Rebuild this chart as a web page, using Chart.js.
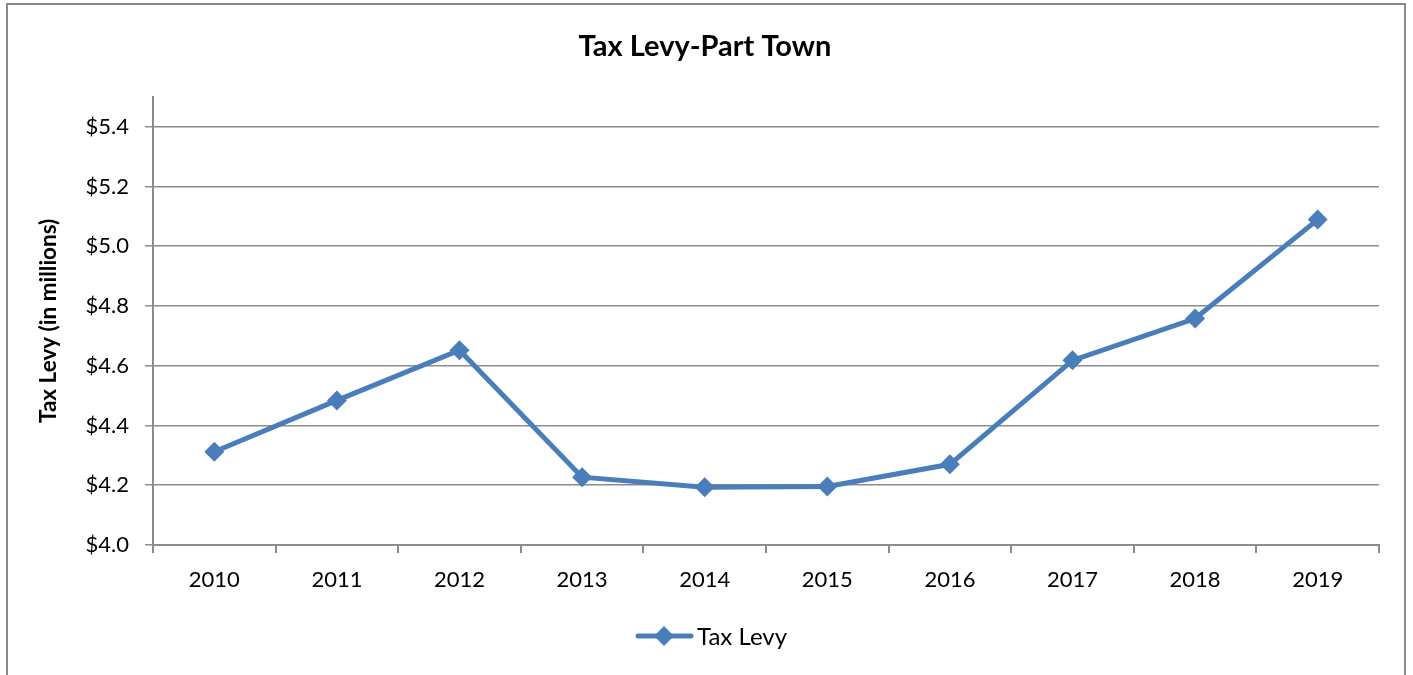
<!DOCTYPE html>
<html>
<head>
<meta charset="utf-8">
<script src="https://cdn.jsdelivr.net/npm/chart.js@4/dist/chart.umd.min.js"></script>
<style>
  html, body { margin: 0; padding: 0; background: #fff; overflow: hidden; }
  #frame {
    position: absolute; left: 6px; top: 3px; width: 1400px; height: 720px;
    border: 2px solid #8a8a8a; box-sizing: border-box;
  }
  #wrap { position: absolute; left: 0; top: 0; width: 1413px; height: 675px; }
</style>
</head>
<body>
<div id="frame"></div>
<div id="wrap"><canvas id="levyChart"></canvas></div>
<script>
// chart data
const years = ['2010', '2011', '2012', '2013', '2014', '2015', '2016', '2017', '2018', '2019'];
const taxLevy = [4.312, 4.484, 4.652, 4.227, 4.193, 4.196, 4.270, 4.618, 4.758, 5.089];
const seriesName = 'Tax Levy';
const chartTitle = 'Tax Levy-Part Town';
const yAxisTitle = 'Tax Levy (in millions)';

const blue = '#4a7ebb';
const gray = '#8c8c8c';
const font = 'Lato, "Open Sans", sans-serif';

// Legend drawn like Excel: a short line with a diamond, then the label
const excelLegend = {
    id: 'excelLegend',
    afterDraw(chart) {
        const ctx = chart.ctx;
        const ds = chart.data.datasets[0];
        const y = 636;
        ctx.save();
        ctx.strokeStyle = ds.borderColor;
        ctx.lineWidth = 5;
        ctx.lineCap = 'round';
        ctx.beginPath();
        ctx.moveTo(638, y);
        ctx.lineTo(691, y);
        ctx.stroke();
        ctx.fillStyle = ds.backgroundColor;
        ctx.beginPath();
        ctx.moveTo(664, y - 10);
        ctx.lineTo(674, y);
        ctx.lineTo(664, y + 10);
        ctx.lineTo(654, y);
        ctx.closePath();
        ctx.fill();
        ctx.fillStyle = '#000';
        ctx.font = '24px ' + font;
        ctx.textBaseline = 'middle';
        ctx.textAlign = 'left';
        ctx.fillText(ds.label, 697, y + 1);
        ctx.restore();
    }
};

document.addEventListener('DOMContentLoaded', function() {
    const ctx = document.getElementById('levyChart');

    new Chart(ctx, {
        type: 'line',
        data: {
            labels: years,
            datasets: [{
                label: seriesName,
                data: taxLevy,
                borderColor: blue,
                backgroundColor: blue,
                borderWidth: 5,
                pointStyle: 'rectRot',
                pointRadius: 10,
                pointHoverRadius: 10,
                pointBorderWidth: 0,
                tension: 0,
                fill: false
            }]
        },
        options: {
            responsive: true,
            maintainAspectRatio: false,
            animation: false,
            layout: {
                padding: { left: 31, right: 34, top: 29, bottom: 0 }
            },
            plugins: {
                legend: { display: false },
                tooltip: { enabled: false },
                title: {
                    display: true,
                    text: chartTitle,
                    color: '#000',
                    font: { family: font, size: 29, weight: 'bold' },
                    padding: { top: 0, bottom: 33 }
                }
            },
            scales: {
                y: {
                    min: 4.0,
                    max: 5.5,
                    afterFit: function(scale) { scale.width = 122; },
                    ticks: {
                        stepSize: 0.2,
                        includeBounds: false,
                        color: '#000',
                        padding: 16,
                        font: { family: font, size: 22 },
                        callback: function(v) { return '$' + Number(v).toFixed(1); }
                    },
                    grid: {
                        color: gray,
                        lineWidth: 1.5,
                        tickLength: 8
                    },
                    border: { display: true, color: gray, width: 2 },
                    title: {
                        display: true,
                        text: yAxisTitle,
                        color: '#000',
                        font: { family: font, size: 22.5, weight: 'bold' },
                        padding: { top: 4, bottom: 0 }
                    }
                },
                x: {
                    offset: true,
                    afterFit: function(scale) { scale.height = 130; },
                    ticks: {
                        color: '#000',
                        padding: 14,
                        maxRotation: 0,
                        font: { family: font, size: 22 }
                    },
                    grid: {
                        offset: true,
                        drawOnChartArea: false,
                        color: gray,
                        lineWidth: 2,
                        tickLength: 8
                    },
                    border: { display: true, color: gray, width: 2 }
                }
            }
        },
        plugins: [excelLegend]
    });
});
</script>
</body>
</html>
